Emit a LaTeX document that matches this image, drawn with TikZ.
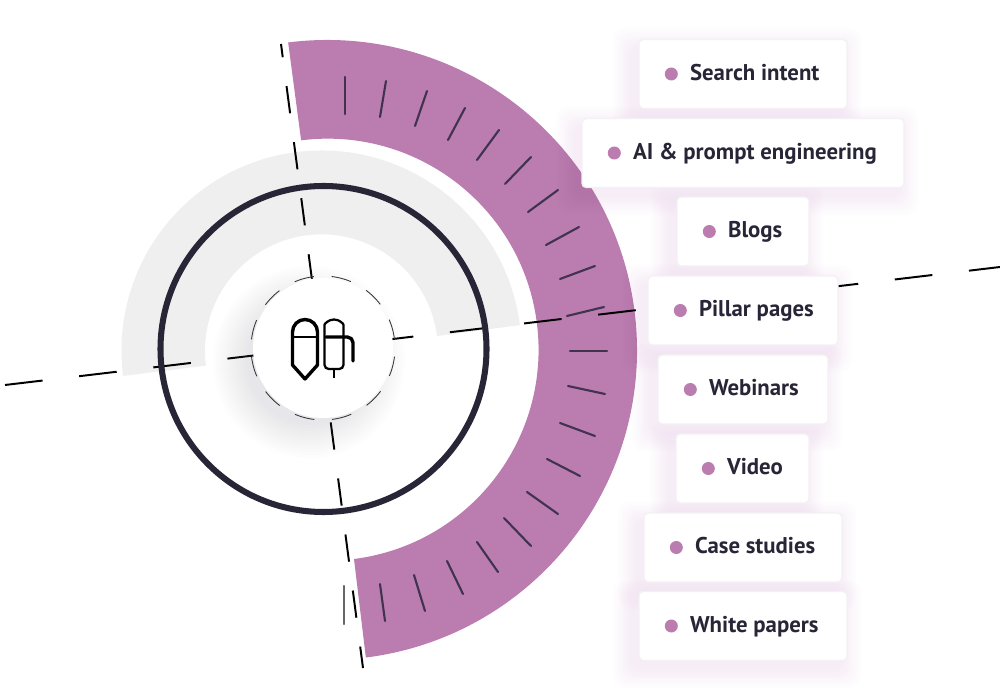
\documentclass[tikz,border=0pt]{standalone}
\usepackage{fontspec}
\setmainfont{PT Sans}
\usetikzlibrary{positioning}
\definecolor{ringpurple}{HTML}{BB7CB0}
\definecolor{ringgray}{HTML}{EFEFEF}
\definecolor{inkdark}{HTML}{272536}
\definecolor{tickdark}{HTML}{3F3350}
\definecolor{cardedge}{HTML}{F3F1F4}
\definecolor{shadowtint}{HTML}{8A6A9A}
\newcommand{\px}{0.025cm}
\tikzset{
    axisline/.style={line width=1.4pt, black},
    tick/.style={line width=1.5pt, tickdark, line cap=round},
    card/.style={draw=cardedge, line width=1pt, fill=white, rounded corners=3pt, minimum height=69*\px, inner sep=0pt},
    dot/.style={circle, fill=ringpurple, minimum size=13*\px, inner sep=0pt},
    cardtext/.style={anchor=west, inner sep=0pt, text=inkdark, font=\bfseries\fontsize{16.2pt}{18pt}\selectfont, text height=11pt, text depth=3pt},
    iconline/.style={black, line width=2.4pt, line join=round, line cap=round},
}
\begin{document}
\begin{tikzpicture}[x=\px, y=-\px]
    \useasboundingbox (0,0) rectangle (1000,688);
    \fill[white] (0,0) rectangle (1000,688);

    % rings
    \fill[ringpurple] (327,350) ++(-97.2:310) arc[start angle=-97.2, end angle=82.8, radius=310]
        -- (354,559) arc[start angle=82.8, end angle=-97.2, radius=211] -- cycle;
    \fill[ringgray] (321.5,350.5) ++(172.7:200) arc[start angle=172.7, end angle=352.7, radius=200]
        -- (437,336) arc[start angle=352.7, end angle=172.7, radius=116.5] -- cycle;

    % ticks on the purple ring
    \foreach \xa/\ya/\xb/\yb in {345/77/345/114, 386/81/380/117, 427/91/415/126, 465/108/448/140,
        499/130/477/160, 531/157/505/184, 558/190/528/212, 579/227/546/245, 595/266/560/279,
        604/307/567/316, 607/351/570/351, 605/394/568/386, 595/436/560/423, 580/476/547/459,
        558/514/527/492, 531/546/504/518, 498/572/477/542, 463/594/447/561, 425/611/414/575,
        385/621/380/584}
        \draw[tick] (\xa,\ya) -- (\xb,\yb);
    \draw[line width=1.5pt, black!60, line cap=round] (344,586) -- (344,624);

    % axes
    \coordinate (axleft) at (5,385);
    \coordinate (axright) at (1000,267);
    \coordinate (axtop) at (281,44);
    \coordinate (axbottom) at (363,668);
    \draw[axisline, dash pattern=on 26.9pt off 26.2pt] (axleft) -- (axright);
    \draw[axisline, dash pattern=on 19.5pt off 20.7pt, dash phase=10pt] (axtop) -- (axbottom);

    \draw[inkdark, line width=4.3pt] (323.5,349) circle[radius=163];

    % centre disc
    \foreach \r in {1,...,12}
        \fill[shadowtint, opacity=0.012] (309,362) circle[radius=60+3*\r];
    \node[circle, fill=white, minimum size=140*\px, inner sep=0pt] (disc) at (323,348) {};
    \draw[black!80, line width=0.6pt, dash pattern=on 14.2pt off 12.6pt, dash phase=20.6pt] (323,348) circle[radius=72];

    % pen icon
    \draw[iconline] (305,379) -- (292.5,365) -- (292.5,332) arc[start angle=180, end angle=360, radius=12.5] -- (317.5,365) -- cycle;
    \draw[black, line width=0.8pt] (293,337) -- (317,337);
    \draw[black, line width=1.6pt, rounded corners=3pt] (324.5,369) -- (324.5,329) arc[start angle=180, end angle=360, radius=9.5] -- (343.5,369) -- cycle;
    \draw[black, line width=0.8pt] (334,369) -- (334,378);
    \draw[iconline, rounded corners=4pt] (326,337) -- (353,337) -- (353,361);

    % cards
    \foreach \name/\xa/\xb/\yc in {search/639/847/74, ai/582/904/153, blogs/677/809/231.5, pillar/648/838/310.5,
        webinars/658/828/389.5, video/676/809/468.5, cases/644/842/547.5, papers/639/847/626}
        \foreach \s in {1,...,9}
            \fill[shadowtint, opacity=0.009, rounded corners=8pt] (\xa-6-2.2*\s,\yc-34+8-2.2*\s) rectangle (\xb-6+2.2*\s,\yc+34+8+2.2*\s);

    \foreach \name/\xa/\xb/\yc/\txt in {search/639/847/74/Search intent, ai/582/904/153/AI \& prompt engineering,
        blogs/677/809/231.5/Blogs, pillar/648/838/310.5/Pillar pages, webinars/658/828/389.5/Webinars,
        video/676/809/468.5/Video, cases/644/842/547.5/Case studies, papers/639/847/626/White papers}
    {
        \node[card, minimum width=(\xb-\xa)*\px] (\name) at ({(\xa+\xb)/2},\yc) {};
        \node[dot] (\name dot) at ([xshift=33*\px]\name.west) {};
        \node[cardtext] (\name text) at ([xshift=51.5*\px,yshift=-0.7*\px]\name.west) {\txt};
    }
\end{tikzpicture}
\end{document}
